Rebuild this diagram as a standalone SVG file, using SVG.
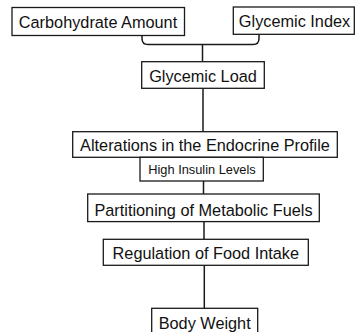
<svg xmlns="http://www.w3.org/2000/svg" width="355" height="332" viewBox="0 0 355 332">
<style>
.box{fill:#fff;stroke:#1a1a1a;stroke-width:1.3}
.t{font-family:"Liberation Sans",Arial,sans-serif;font-size:16.3px;fill:#111;text-anchor:middle}
.s{font-size:12.8px}
.c{fill:none;stroke:#1a1a1a;stroke-width:1.5}
</style>
<rect width="355" height="332" fill="#fff"/>
<g id="connectors">
<path class="c" d="M142,35.5 V38.5 Q142,44.5 148,44.5 H253 Q259,44.5 259,38.5 V34.3"/>
<path class="c" d="M202.5,44.5 V61.7"/>
<path class="c" d="M203,88.3 V131.7"/>
<path class="c" d="M203.5,181 V194"/>
<path class="c" d="M204,221.6 V239.3"/>
<path class="c" d="M204.3,265.3 V308.3"/>
</g>
<g id="carbohydrate-amount">
<rect class="box" x="12" y="7.5" width="172.5" height="28"/>
<text class="t" x="98" y="27.8">Carbohydrate Amount</text>
</g>
<g id="glycemic-index">
<rect class="box" x="233.3" y="7" width="121" height="27.3"/>
<text class="t" x="294.5" y="27">Glycemic Index</text>
</g>
<g id="glycemic-load">
<rect class="box" x="141.7" y="61.7" width="122.6" height="26.6"/>
<text class="t" x="203" y="82">Glycemic Load</text>
</g>
<g id="endocrine-profile">
<rect class="box" x="72.7" y="131.7" width="264.6" height="25.6"/>
<text class="t" x="205" y="150.7">Alterations in the Endocrine Profile</text>
</g>
<g id="high-insulin">
<rect class="box" x="140" y="157.3" width="123.3" height="23.7"/>
<text class="t s" x="202" y="174">High Insulin Levels</text>
</g>
<g id="partitioning">
<rect class="box" x="87.7" y="194" width="231.6" height="27.6"/>
<text class="t" x="203.5" y="215.5">Partitioning of Metabolic Fuels</text>
</g>
<g id="regulation">
<rect class="box" x="103.3" y="239.3" width="205" height="26"/>
<text class="t" x="205.8" y="258.5">Regulation of Food Intake</text>
</g>
<g id="body-weight">
<rect class="box" x="151.7" y="308.3" width="106" height="30"/>
<text class="t" x="204.7" y="329">Body Weight</text>
</g>
</svg>
